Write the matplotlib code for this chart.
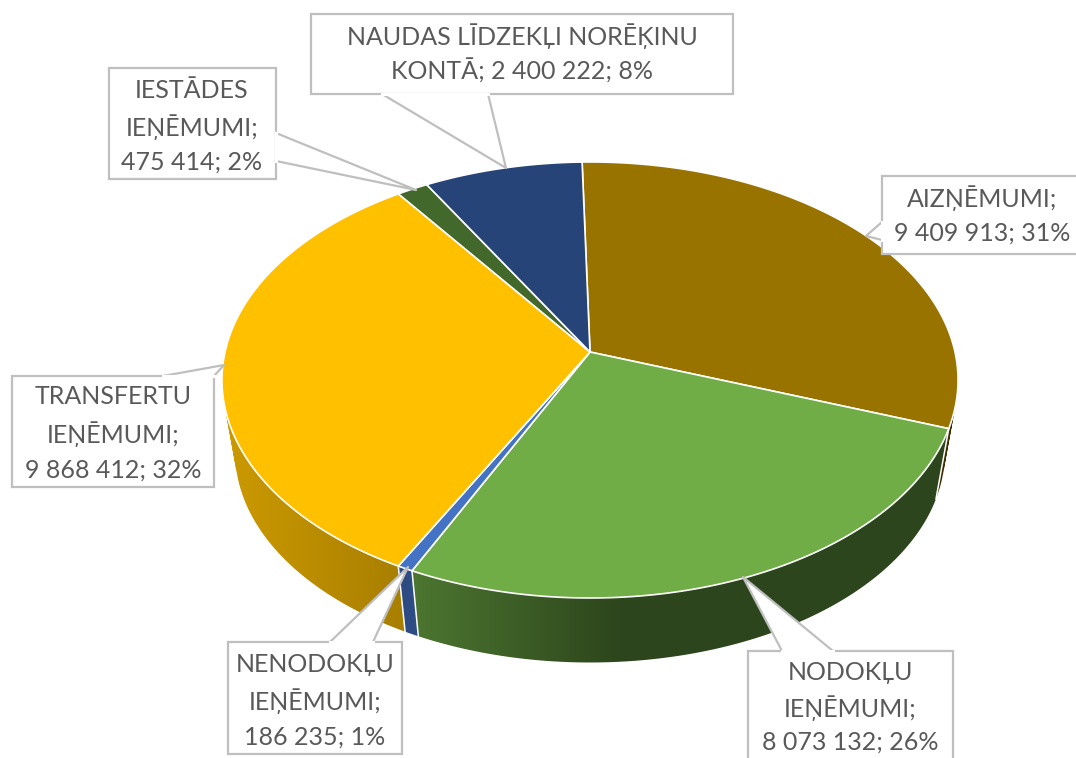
#recreates the 3D pie chart of the revenue sources, the perspective is done by hand since matplotlib has no 3D pie
import numpy as np
import matplotlib
matplotlib.use('Agg')
import matplotlib.pyplot as plt
from matplotlib.patches import PathPatch
from matplotlib.path import Path
from matplotlib.colors import to_rgb

plt.rcParams['font.family'] = ['Lato', 'Noto Sans', 'DejaVu Sans']

#chart data, clockwise from the top of the pie
names = ['AIZŅĒMUMI', 'NODOKĻU IEŅĒMUMI', 'NENODOKĻU IEŅĒMUMI', 'TRANSFERTU IEŅĒMUMI', 'IESTĀDES IEŅĒMUMI', 'NAUDAS LĪDZEKĻI NORĒĶINU KONTĀ']
values = [9409913, 8073132, 186235, 9868412, 475414, 2400222]
percents = [31, 26, 1, 32, 2, 8]
colors = ['#997300', '#70ad47', '#4472c4', '#ffc000', '#43682b', '#264478']

#label text lines: how each name is broken, the last line gets value and percent
name_lines = [['AIZŅĒMUMI;'], ['NODOKĻU', 'IEŅĒMUMI;'], ['NENODOKĻU', 'IEŅĒMUMI;'], ['TRANSFERTU', 'IEŅĒMUMI;'], ['IESTĀDES', 'IEŅĒMUMI;'], ['NAUDAS LĪDZEKĻI NORĒĶINU']]

#callout layout in pixels: box (x0, y0, x1, y1), pointer outline, text centre x and y of each line
callouts = [
    {'box': (882, 176, 1090, 254), 'ptr': [(882, 222), (866, 236), (882, 240)], 'x': 982, 'y': [198, 233]},
    {'box': (748, 651, 953, 790), 'ptr': [(782, 651), (743, 577), (833, 651)], 'x': 850, 'y': [672, 708, 742]},
    {'box': (228, 642, 402, 754), 'ptr': [(330, 642), (408, 567), (373, 642)], 'x': 315, 'y': [665, 701, 737]},
    {'box': (12, 376, 214, 487), 'ptr': [(163, 376), (224, 365), (214, 376)], 'x': 113, 'y': [397, 434, 470]},
    {'box': (109, 68, 276, 179), 'ptr': [(276, 133), (416, 190), (276, 161)], 'x': 192, 'y': [90, 127, 162]},
    {'box': (311, 14, 733, 94), 'ptr': [(382, 94), (506, 168), (488, 94)], 'x': 522, 'y': [36, 71]},
]

#perspective of the pie: top face and the smaller bottom face
cx = 590
k = 0.1284
top_cy, top_a, top_b = 352, 365, 214.4
bot_cy, bot_a, bot_b = 425, 352, 207
start_angle = -1.4


def project(theta, cy, a, b):
    #theta in degrees clockwise from the back of the pie
    t = np.radians(theta)
    w = 1 + k*np.cos(t)
    return cx + a*np.sin(t)/w, cy - b*np.cos(t)/w


def side_shade(x):
    #horizontal gradient on the side wall, darker towards the right
    return np.interp(x, [225, 403, 415, 620, 950], [0.80, 0.66, 0.68, 0.40, 0.40])


def wall_path(angles):
    #one quad per angle step, all with the same winding so that they add up when filled
    tx, ty = project(angles, top_cy, top_a, top_b)
    bx, by = project(angles, bot_cy, bot_a, bot_b)
    verts, codes = [], []
    for j in range(len(angles) - 1):
        quad = [(tx[j], ty[j]), (tx[j+1], ty[j+1]), (bx[j+1], by[j+1]), (bx[j], by[j])]
        area = sum(quad[n][0]*quad[(n+1) % 4][1] - quad[(n+1) % 4][0]*quad[n][1] for n in range(4))
        if area < 0:
            quad = quad[::-1]
        verts += quad + [quad[0]]
        codes += [Path.MOVETO, Path.LINETO, Path.LINETO, Path.LINETO, Path.CLOSEPOLY]
    return Path(verts, codes)


#slice limits in degrees
edges = start_angle + np.concatenate([[0], np.cumsum(values)]) / np.sum(values) * 360

fig = plt.figure(figsize=(10.76, 7.58), dpi=100)
ax = fig.add_axes([0, 0, 1, 1])
ax.axis('off')

#side wall of each slice: a gradient image clipped to the band between the two rims
pixel_x = np.arange(1076) + 0.5
order = np.argsort(-np.cos(np.radians((edges[:-1] + edges[1:])/2)))
for i in order:
    angles = np.linspace(edges[i], edges[i+1], 120)
    gradient = side_shade(pixel_x)[:, None]*np.array(to_rgb(colors[i]))
    im = ax.imshow(gradient[None, :, :], extent=(0, 1076, 758, 0), aspect='auto', zorder=1)
    patch = PathPatch(wall_path(angles), transform=ax.transData, facecolor='none', edgecolor='none')
    ax.add_patch(patch)
    im.set_clip_path(patch)

#white seams between the slices on the front of the wall
for edge in edges[:-1]:
    if np.cos(np.radians(edge)) < -0.3:
        xs = [project(edge, top_cy, top_a, top_b)[0], project(edge, bot_cy, bot_a, bot_b)[0]]
        ys = [project(edge, top_cy, top_a, top_b)[1], project(edge, bot_cy, bot_a, bot_b)[1]]
        ax.plot(xs, ys, color='white', lw=1.1, zorder=2)

#top face of each slice
for i, color in enumerate(colors):
    angles = np.linspace(edges[i], edges[i+1], 200)
    xs, ys = project(angles, top_cy, top_a, top_b)
    xs = np.concatenate([[cx], xs])
    ys = np.concatenate([[top_cy], ys])
    ax.fill(xs, ys, facecolor=color, edgecolor='white', linewidth=1.2, joinstyle='round', zorder=3)

#callouts, white box with pointer and grey outline
for i, c in enumerate(callouts):
    x0, y0, x1, y1 = c['box']
    ax.fill([x0, x1, x1, x0], [y0, y0, y1, y1], facecolor='white', edgecolor='#bfbfbf', linewidth=1.6, zorder=4)
    ptr_x = [p[0] for p in c['ptr']]
    ptr_y = [p[1] for p in c['ptr']]
    ax.fill(ptr_x, ptr_y, facecolor='white', edgecolor='none', zorder=5)
    ax.plot(ptr_x, ptr_y, color='#bfbfbf', lw=1.6, zorder=5)
    #clear the box line under the pointer
    ax.plot([ptr_x[0], ptr_x[-1]], [ptr_y[0], ptr_y[-1]], color='white', lw=2.2, zorder=5)

    number = '{:,}'.format(values[i]).replace(',', ' ')
    tail = number + '; ' + str(percents[i]) + '%'
    if i == 5:
        lines = name_lines[i] + ['KONTĀ; ' + tail]
    else:
        lines = name_lines[i] + [tail]
    for line, y in zip(lines, c['y']):
        ax.text(c['x'], y, line, ha='center', va='center', fontsize=18, color='#595959', zorder=6)

#limits set last since imshow changes them
ax.set_xlim(0, 1076)
ax.set_ylim(758, 0)

fig.savefig('out.png', dpi=100, facecolor='white')
